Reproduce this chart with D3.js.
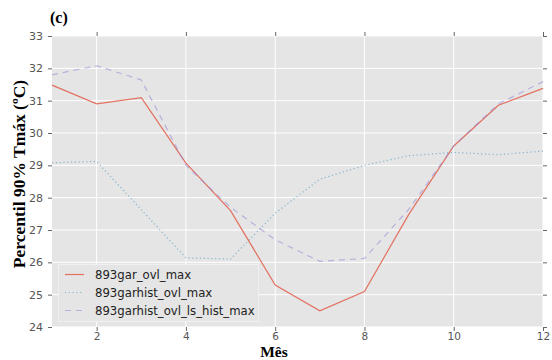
<!DOCTYPE html>
<html><head><meta charset="utf-8">
<script src="https://cdn.jsdelivr.net/npm/d3@7/dist/d3.min.js"></script>
<style>body{margin:0;background:#fff}svg{display:block}</style>
</head><body>
<script>
const months = [1,2,3,4,5,6,7,8,9,10,11,12];
const garOvlMax = [31.48,30.9,31.09,29.07,27.6,25.3,24.5,25.1,27.5,29.6,30.86,31.38];
const garhistOvlMax = [29.08,29.12,27.63,26.14,26.1,27.52,28.57,29.0,29.3,29.4,29.33,29.44];
const garhistLsHistMax = [31.8,32.08,31.64,29.0,27.7,26.7,26.03,26.12,27.65,29.6,30.9,31.59];
const seriesNames = ["893gar_ovl_max","893garhist_ovl_max","893garhist_ovl_ls_hist_max"];
const xTicks = [2,4,6,8,10,12];
const yTicks = [24,25,26,27,28,29,30,31,32,33];

const W=552,H=360;
const m={l:52,r:9,t:36,b:33};
const svg=d3.select("body").append("svg").attr("width",W).attr("height",H);
const x=d3.scaleLinear().domain([1,12]).range([m.l,W-m.r]);
const y=d3.scaleLinear().domain([24,33]).range([H-m.b,m.t]);

svg.append("rect").attr("x",m.l).attr("y",m.t).attr("width",W-m.r-m.l).attr("height",H-m.b-m.t).attr("fill","#e5e5e5");
const g=svg.append("g");
g.selectAll(".vg").data(xTicks).join("line").attr("x1",d=>x(d)).attr("x2",d=>x(d)).attr("y1",m.t).attr("y2",H-m.b).attr("stroke","#fff").attr("stroke-width",1);
g.selectAll(".hg").data(yTicks).join("line").attr("y1",d=>y(d)).attr("y2",d=>y(d)).attr("x1",m.l).attr("x2",W-m.r).attr("stroke","#fff").attr("stroke-width",1);

function styleAxis(sel, fs){
  sel.select(".domain").remove();
  sel.selectAll(".tick line").attr("stroke","#666");
  sel.selectAll(".tick text").attr("fill","#555").style("font-family","DejaVu Sans").style("font-size",(fs||11)+"px");
}
svg.append("g").attr("transform",`translate(0,${H-m.b})`).call(d3.axisBottom(x).tickValues(xTicks).tickSize(4).tickPadding(2)).call(styleAxis,10.5);
svg.append("g").attr("transform",`translate(0,${m.t})`).call(d3.axisTop(x).tickValues(xTicks).tickSize(4).tickFormat("")).call(styleAxis);
svg.append("g").attr("transform",`translate(${m.l},0)`).call(d3.axisLeft(y).tickValues(yTicks).tickSize(4).tickPadding(5)).call(styleAxis,11);
svg.append("g").attr("transform",`translate(${W-m.r},0)`).call(d3.axisRight(y).tickValues(yTicks).tickSize(4).tickFormat("")).call(styleAxis);

const series=[
 {name:seriesNames[0],vals:garOvlMax,color:"#E24A33",dash:null,op:0.75},
 {name:seriesNames[1],vals:garhistOvlMax,color:"#348ABD",dash:"1.2,2.6",op:0.55},
 {name:seriesNames[2],vals:garhistLsHistMax,color:"#988ED5",dash:"6,5",op:0.6}
];
const line=d3.line().x((d,i)=>x(months[i])).y(d=>y(d));
series.forEach(s=>{
  svg.append("path").datum(s.vals).attr("d",line).attr("fill","none").attr("stroke",s.color)
    .attr("stroke-width",1.2).attr("stroke-opacity",s.op).attr("stroke-dasharray",s.dash);
});

// legend
const lg=svg.append("g");
lg.append("rect").attr("x",58.5).attr("y",264.5).attr("width",200).attr("height",57).attr("fill","#e5e5e5").attr("stroke","#f0f0f0").attr("stroke-width",1);
series.forEach((s,i)=>{
  const yy=274.5+i*18;
  lg.append("line").attr("x1",65).attr("x2",84).attr("y1",yy).attr("y2",yy).attr("stroke",s.color)
    .attr("stroke-width",1.2).attr("stroke-opacity",s.op).attr("stroke-dasharray",s.dash);
  lg.append("text").attr("x",95).attr("y",yy).attr("dy","0.35em").text(s.name)
    .style("font-family","DejaVu Sans").style("font-size","11.7px").attr("fill","#222");
});

// titles
svg.append("text").attr("x",50).attr("y",23).text("(c)").style("font-family","Liberation Serif").style("font-weight","bold").style("font-size","16px");
svg.append("text").attr("x",274).attr("y",357).attr("text-anchor","middle").text("Mês").style("font-family","Liberation Serif").style("font-weight","bold").style("font-size","15.5px");
svg.append("text").attr("transform",`translate(24.5,174) rotate(-90)`).attr("text-anchor","middle").text("Percentil 90% Tmáx (ºC)").style("font-family","Liberation Serif").style("font-weight","bold").style("font-size","17.5px");
</script>
</body></html>
